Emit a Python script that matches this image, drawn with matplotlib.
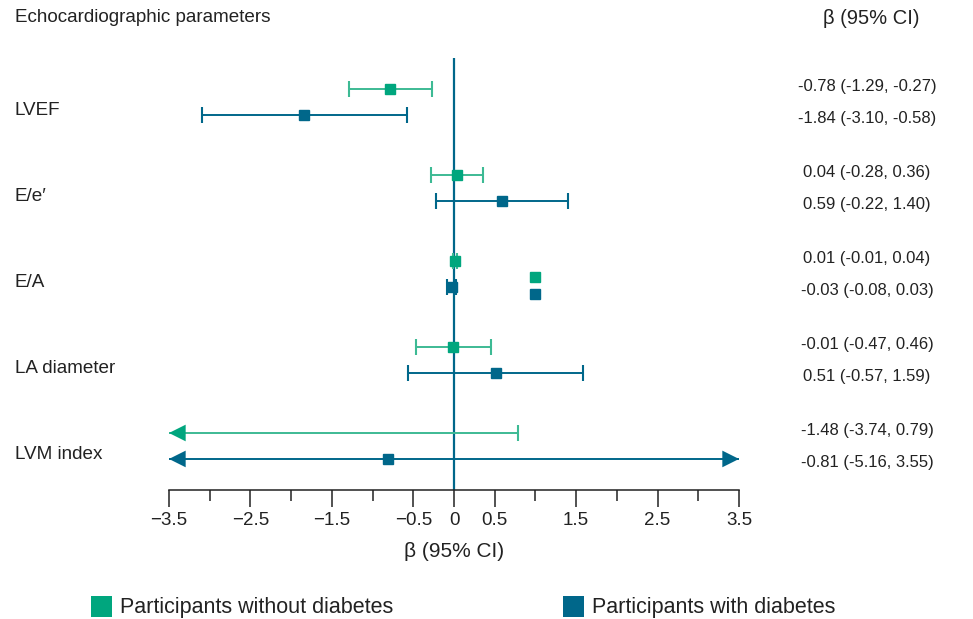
import numpy as np
import matplotlib
matplotlib.use("Agg")
import matplotlib.pyplot as plt
import matplotlib.transforms as mtransforms
from matplotlib.patches import Rectangle

plt.rcParams['font.family'] = ['Liberation Sans', 'DejaVu Sans']

params = ['LVEF', 'E/e\u2032', 'E/A', 'LA diameter', 'LVM index']

# participants without diabetes
beta_nodm = [-0.78, 0.04, 0.01, -0.01, -1.48]
lo_nodm = [-1.29, -0.28, -0.01, -0.47, -3.74]
hi_nodm = [-0.27, 0.36, 0.04, 0.46, 0.79]

# participants with diabetes
beta_dm = [-1.84, 0.59, -0.03, 0.51, -0.81]
lo_dm = [-3.10, -0.22, -0.08, -0.57, -5.16]
hi_dm = [-0.58, 1.40, 0.03, 1.59, 3.55]

# point estimate not shown in the original figure
hidden_points = [('LVM index', 'nodm')]

# stray squares drawn next to the E/A row in the original
stray_x = [1.0, 1.0]

xticks_major = [-3.5, -2.5, -1.5, -0.5, 0, 0.5, 1.5, 2.5, 3.5]
xtick_labels = ['\u22123.5', '\u22122.5', '\u22121.5', '\u22120.5', '0', '0.5', '1.5', '2.5', '3.5']
xticks_minor = [-3, -2, -1, 1, 2, 3]

green = '#00a67e'
green_line = '#3dba94'
blue = '#00678a'
txt = '#222222'
xmin, xmax = -3.5, 3.5

W, H = 973, 619
fig = plt.figure(figsize=(W / 100, H / 100), dpi=100)
ax = fig.add_axes([169 / W, 1 - 490 / H, 570 / W, 432 / H])
ax.set_xlim(xmin, xmax)
ax.set_ylim(4.512, -0.512)

ax.axvline(0, color=blue, lw=1.6, zorder=1)

off = 0.151
series = [
    ('nodm', beta_nodm, lo_nodm, hi_nodm, green, green_line, -off),
    ('dm', beta_dm, lo_dm, hi_dm, blue, blue, off),
]
fig_y = mtransforms.blended_transform_factory(fig.transFigure, ax.transData)

for key, beta, lo, hi, col, lcol, dy in series:
    for i, name in enumerate(params):
        y = i + dy
        a = max(lo[i], xmin)
        b = min(hi[i], xmax)
        ax.plot([a, b], [y, y], color=lcol, lw=1.4, zorder=2, solid_capstyle='butt')
        # left end
        if lo[i] < xmin:
            ax.annotate('', xy=(xmin, y), xytext=(xmin + 0.3, y),
                        arrowprops=dict(arrowstyle='-|>,head_length=0.6,head_width=0.3',
                                        color=col, lw=0, mutation_scale=20,
                                        shrinkA=0, shrinkB=0),
                        annotation_clip=False, zorder=3)
        else:
            ax.plot([a], [y], marker='|', ms=12, mew=1.5, color=lcol, zorder=2)
        # right end
        if hi[i] > xmax:
            ax.annotate('', xy=(xmax, y), xytext=(xmax - 0.3, y),
                        arrowprops=dict(arrowstyle='-|>,head_length=0.6,head_width=0.3',
                                        color=col, lw=0, mutation_scale=20,
                                        shrinkA=0, shrinkB=0),
                        annotation_clip=False, zorder=3)
        else:
            ax.plot([b], [y], marker='|', ms=12, mew=1.5, color=lcol, zorder=2)
        if (name, key) not in hidden_points:
            ax.plot([beta[i]], [y], marker='s', ms=7, color=col, mec=col, zorder=4)

        # value text on the right
        ty = y - 0.03 if key == 'nodm' else y + 0.04
        s = '%.2f (%.2f, %.2f)' % (beta[i], lo[i], hi[i])
        ax.text(867 / W, ty, s, transform=fig_y, ha='center', va='center',
                fontsize=12, color=txt)

# stray squares at E/A
ax.plot([stray_x[0]], [2 + 0.035], marker='s', ms=7, color=green, zorder=4)
ax.plot([stray_x[1]], [2 + 0.233], marker='s', ms=7, color=blue, zorder=4)

# row labels
for i, name in enumerate(params):
    ax.text(15 / W, i + 0.1, name, transform=fig_y, ha='left', va='center',
            fontsize=13.6, color=txt)

for s in ['top', 'left', 'right']:
    ax.spines[s].set_visible(False)
ax.spines['bottom'].set_linewidth(1.1)
ax.spines['bottom'].set_color(txt)
ax.set_yticks([])
ax.set_xticks(xticks_major)
ax.set_xticklabels(xtick_labels, fontsize=13.5, color=txt)
ax.set_xticks(xticks_minor, minor=True)
ax.tick_params(axis='x', which='major', length=12, width=1.1, color=txt, pad=4)
ax.tick_params(axis='x', which='minor', length=8, width=1.1, color=txt)
ax.set_xlabel('\u03b2 (95% CI)', fontsize=15, color=txt, labelpad=9)
ax.patch.set_visible(False)

# headers
fig.text(15 / W, 1 - 18 / H, 'Echocardiographic parameters', ha='left', va='center',
         fontsize=13.6, color=txt)
fig.text(871 / W, 1 - 18 / H, '\u03b2 (95% CI)', ha='center', va='center',
         fontsize=14.5, color=txt)

# legend
fig.add_artist(Rectangle((91 / W, 1 - 617 / H), 21 / W, 21 / H, transform=fig.transFigure,
                         color=green, lw=0))
fig.text(120 / W, 1 - 607 / H, 'Participants without diabetes', ha='left', va='center',
         fontsize=15.5, color=txt)
fig.add_artist(Rectangle((563 / W, 1 - 617 / H), 21 / W, 21 / H, transform=fig.transFigure,
                         color=blue, lw=0))
fig.text(592 / W, 1 - 607 / H, 'Participants with diabetes', ha='left', va='center',
         fontsize=15.5, color=txt)

fig.savefig('out.png', dpi=100)
